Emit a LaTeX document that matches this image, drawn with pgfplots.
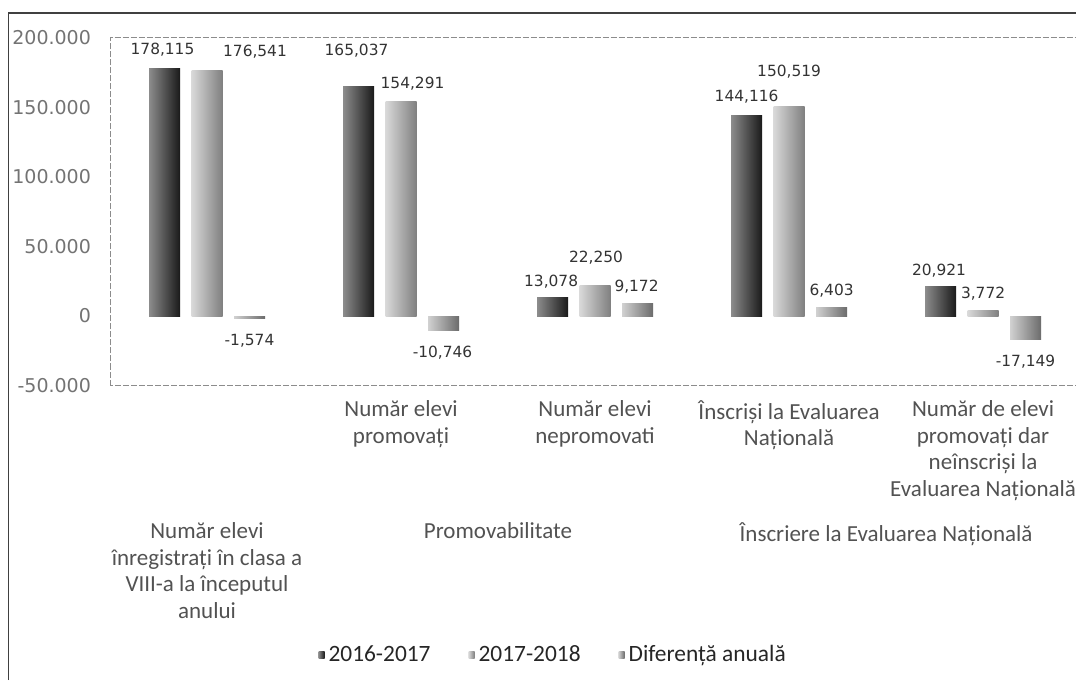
\documentclass[border=0pt]{standalone}
\usepackage{fontspec}
\setmainfont{Carlito}
\newfontfamily\dejavu{DejaVu Sans}
\usepackage{pgfplots}
\usepackage{pgfplotstable}
\pgfplotsset{compat=1.18}

% x = group, y = value, lab = printed label, dx/dy = label offset (pt) from the bar end
\pgfplotstableread{
x y lab dx dy
0 178115 178,115 -1 9.6
1 165037 165,037 -1 18.2
2 13078 13,078 -0.7 7.9
3 144116 144,116 0 9.25
4 20921 20,921 -0.75 8
}\dataA
\pgfplotstableread{
x y lab dx dy
0 176541 176,541 24 9.25
1 154291 154,291 5.75 8.7
2 22250 22,250 0.5 13.5
3 150519 150,519 0 17.3
4 3772 3,772 0 8.4
}\dataB
\pgfplotstableread{
x y lab dx dy
0 -1574 -1,574 0 -11.4
1 -10746 -10,746 -0.5 -11
2 9172 9,172 -0.5 8.1
3 6403 6,403 0 8
4 -17149 -17,149 0 -11
}\dataC

\pgfplotsset{
  serA/.style={draw=none, left color=black!45, right color=black!90},
  serB/.style={draw=none, left color=black!15, right color=black!50},
  serC/.style={draw=none, left color=black!18, right color=black!58},
}

\begin{document}
\begin{tikzpicture}
\useasboundingbox (0,0) rectangle (538pt,340pt);
\draw[black!75, line width=0.8pt] (4.15pt,0pt) -- (4.15pt,333.5pt) -- (538pt,333.5pt);
\begin{axis}[
    at={(55pt,147.25pt)}, anchor=south west,
    scale only axis, width=483pt, height=173.75pt,
    xmin=-0.5, xmax=4.479, ymin=-50000, ymax=200000,
    bar width=15.5pt,
    clip=false,
    axis line style={draw=black!45, line width=0.5pt, dash pattern=on 3pt off 1pt},
    tick style={draw=none},
    scaled y ticks=false,
    ytick={-50000,0,50000,100000,150000,200000},
    yticklabels={-50.000,0,50.000,100.000,150.000,200.000},
    yticklabel style={font=\dejavu\fontsize{9.5}{11}\selectfont, text=black!55, xshift=-6pt},
    xtick={0,1,2,3,4},
    xticklabels={{}, {Număr elevi\\promovați}, {Număr elevi\\nepromovati},
        {Înscriși la Evaluarea\\Națională},
        {Număr de elevi\\promovați dar\\neînscriși la\\Evaluarea Națională}},
    xticklabel style={align=center, font=\fontsize{11.5}{13.25}\selectfont, text=black!68, yshift=-4pt},
    point meta=explicit symbolic,
    nodes near coords,
    visualization depends on={\thisrow{dx}\as\ldx},
    visualization depends on={\thisrow{dy}\as\ldy},
    every node near coord/.append style={anchor=center, xshift=\ldx pt, yshift=\ldy pt,
        font=\dejavu\fontsize{7.7}{9}\selectfont, text=black!80},
    legend columns=3,
    legend style={at={(0.4598,-0.7755)}, anchor=center, draw=none, fill=none,
        font=\fontsize{11.7}{14}\selectfont, text=black!85,
        /tikz/every even column/.append style={column sep=17pt}},
    legend image code/.code={\path[#1,draw=none] (0pt,-1.6pt) rectangle (3pt,1.6pt);},
]
% one plot per bar, so that each bar gets its own gradient
\pgfplotsinvokeforeach{0,...,4}{
  \addplot[ybar, bar shift=-21.25pt, serA, forget plot, restrict x to domain=#1:#1,
    nodes near coords style={xshift=-21.25pt}]
    table[x=x,y=y,meta=lab] {\dataA};
  \addplot[ybar, bar shift=0pt, serB, forget plot, restrict x to domain=#1:#1]
    table[x=x,y=y,meta=lab] {\dataB};
  \addplot[ybar, bar shift=21.25pt, serC, forget plot, restrict x to domain=#1:#1,
    nodes near coords style={xshift=21.25pt}]
    table[x=x,y=y,meta=lab] {\dataC};
}
\addlegendimage{serA}\addlegendentry{2016-2017}
\addlegendimage{serB}\addlegendentry{2017-2018}
\addlegendimage{serC}\addlegendentry{Diferență anuală}

\node[anchor=north, align=center, font=\fontsize{11.5}{13.25}\selectfont, text=black!68, yshift=-65pt]
    at (axis cs:0,-50000) {Număr elevi\\înregistrați în clasa a\\VIII-a la începutul\\anului};
\node[anchor=north, align=center, font=\fontsize{11.5}{13.25}\selectfont, text=black!68, yshift=-65pt]
    at (axis cs:1.5,-50000) {Promovabilitate};
\node[anchor=north, align=center, font=\fontsize{11.5}{13.25}\selectfont, text=black!68, yshift=-65pt]
    at (axis cs:3.5,-50000) {Înscriere la Evaluarea Națională};
\end{axis}
\end{tikzpicture}
\end{document}
